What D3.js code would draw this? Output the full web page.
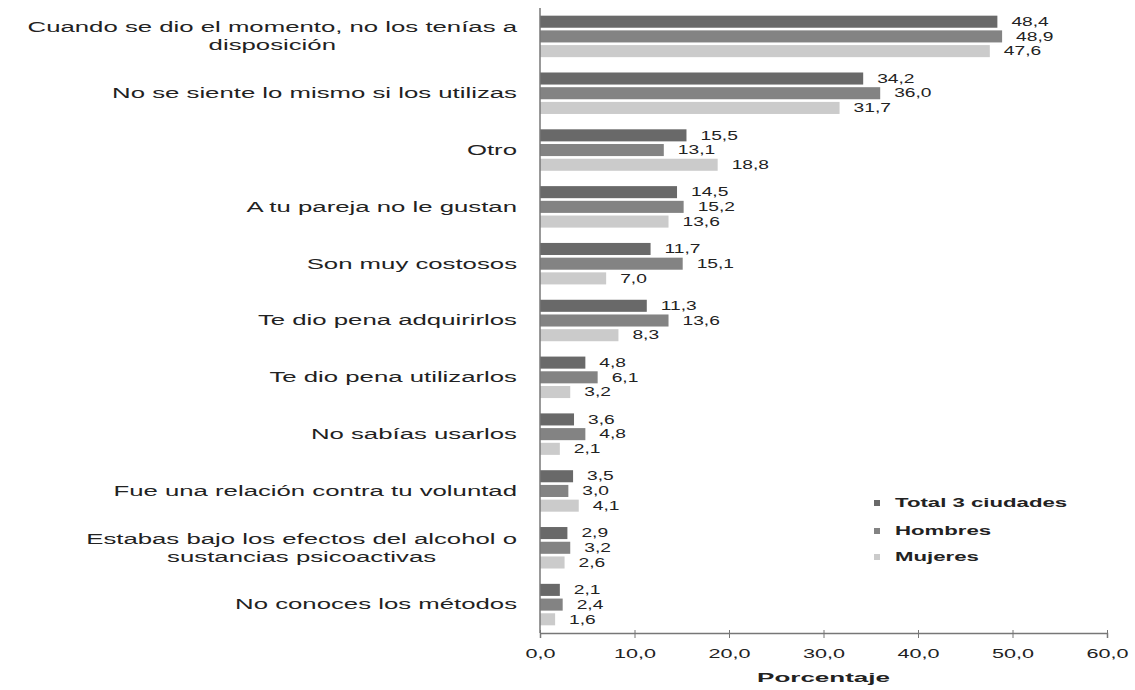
<!DOCTYPE html>
<html>
<head>
<meta charset="utf-8">
<script src="https://cdn.jsdelivr.net/npm/d3@7"></script>
<style>
  body { margin: 0; background: #fff; }
  svg text { font-family: "Liberation Sans", Arial, sans-serif; fill: #222; }
</style>
</head>
<body>
<svg id="main"></svg>
<script>
// categories, top to bottom
var categories = [
  ["Cuando se dio el momento, no los tenías a", "disposición"],
  ["No se siente lo mismo si los utilizas"],
  ["Otro"],
  ["A tu pareja no le gustan"],
  ["Son muy costosos"],
  ["Te dio pena adquirirlos"],
  ["Te dio pena utilizarlos"],
  ["No sabías usarlos"],
  ["Fue una relación contra tu voluntad"],
  ["Estabas bajo los efectos del alcohol o", "sustancias psicoactivas"],
  ["No conoces los métodos"]
]
var series = ["Total 3 ciudades", "Hombres", "Mujeres"]
var total   = [48.4, 34.2, 15.5, 14.5, 11.7, 11.3, 4.8, 3.6, 3.5, 2.9, 2.1]
var hombres = [48.9, 36.0, 13.1, 15.2, 15.1, 13.6, 6.1, 4.8, 3.0, 3.2, 2.4]
var mujeres = [47.6, 31.7, 18.8, 13.6, 7.0, 8.3, 3.2, 2.1, 4.1, 2.6, 1.6]
var xTicks = [0, 10, 20, 30, 40, 50, 60]

var colors = ["#696969", "#838383", "#cbcbcb"]

var chart = { width: 1135, height: 690 }
var svg = d3.select("#main").attr("width", chart.width).attr("height", chart.height)

var rows = categories.map(function(c, i) {
  return { i: i, label: c, values: [total[i], hombres[i], mujeres[i]] }
})

var x = d3.scaleLinear().domain([0, 60]).range([540, 1107])
var y0 = d3.scaleBand().domain(d3.range(categories.length)).range([8, 633])
  .paddingInner(0.27).paddingOuter(0.135)
var y1 = d3.scaleBand().domain(d3.range(series.length)).range([0, y0.bandwidth()])
  .paddingInner(0.18)

var fmt = d3.formatLocale({ decimal: ",", thousands: ".", grouping: [3], currency: ["", ""] }).format(".1f")

// stretched text (the source picture is wide)
function wide(sel, sx) {
  sel.attr("transform", function() {
    return "translate(" + this.__px + "," + this.__py + ") scale(" + sx + ",1)"
  })
}

var groups = svg.append("g").selectAll("g").data(rows).enter().append("g")
  .attr("transform", function(d) { return "translate(0," + y0(d.i) + ")" })

groups.selectAll("rect").data(function(d) { return d.values }).enter().append("rect")
  .attr("x", x(0))
  .attr("y", function(v, j) { return y1(j) })
  .attr("width", function(v) { return x(v) - x(0) })
  .attr("height", y1.bandwidth())
  .attr("fill", function(v, j) { return colors[j] })

groups.selectAll("text.val").data(function(d) { return d.values }).enter().append("text")
  .attr("class", "val")
  .attr("font-size", 12)
  .attr("dy", "0.35em")
  .each(function(v, j) { this.__px = x(v) + 14; this.__py = y1(j) + y1.bandwidth() / 2 })
  .text(function(v) { return fmt(v) })
  .call(wide, 1.6)

// category labels, second line centred under the first
var cat = svg.append("g").selectAll("text").data(rows).enter().append("text")
  .attr("font-size", 14)
  .attr("text-anchor", "end")
  .each(function(d) { this.__px = 517; this.__py = y0(d.i) + y0.bandwidth() / 2 })
  .call(wide, 1.84)
cat.each(function(d) {
  var n = d.label.length
  var t = d3.select(this)
  var first = t.append("tspan").attr("x", 0)
    .attr("y", -(n - 1) / 2 * 18).attr("dy", "0.35em").text(d.label[0])
  var w = first.node().getComputedTextLength()
  d.label.slice(1).forEach(function(s, k) {
    t.append("tspan").attr("x", -w / 2).attr("text-anchor", "middle")
      .attr("y", (k + 1 - (n - 1) / 2) * 18).attr("dy", "0.35em").text(s)
  })
})

// y axis line
svg.append("line")
  .attr("x1", x(0)).attr("x2", x(0)).attr("y1", 8).attr("y2", 633)
  .attr("stroke", "#777").attr("stroke-width", 1.5)

// x axis
var xAxis = svg.append("g").attr("transform", "translate(0,633)")
  .call(d3.axisBottom(x).tickValues(xTicks).tickSize(5).tickPadding(11).tickFormat(fmt))
xAxis.select(".domain").attr("stroke", "#777").attr("stroke-width", 1.5)
xAxis.selectAll(".tick line").attr("stroke", "#777").attr("y1", -3)
xAxis.selectAll(".tick text")
  .attr("font-size", 12).attr("font-family", "Liberation Sans, Arial, sans-serif").attr("fill", "#222")
  .attr("transform", "scale(1.8,1)")
  .attr("x", 0)

svg.append("text")
  .attr("font-size", 13).attr("font-weight", "bold").attr("text-anchor", "middle")
  .each(function() { this.__px = (x(0) + x(60)) / 2; this.__py = 677 })
  .attr("dy", "0.35em")
  .text("Porcentaje")
  .call(wide, 2)

// legend
var legend = svg.append("g").selectAll("g").data(series).enter().append("g")
  .attr("transform", function(d, i) { return "translate(874," + [503, 531, 557][i] + ")" })
legend.append("rect").attr("x", 0).attr("y", -3).attr("width", 6).attr("height", 6)
  .attr("fill", function(d, i) { return colors[i] })
legend.append("text")
  .attr("font-size", 12).attr("font-weight", "bold")
  .attr("dy", "0.35em")
  .each(function() { this.__px = 21; this.__py = 0 })
  .text(function(d) { return d })
  .call(wide, 1.85)
</script>
</body>
</html>
